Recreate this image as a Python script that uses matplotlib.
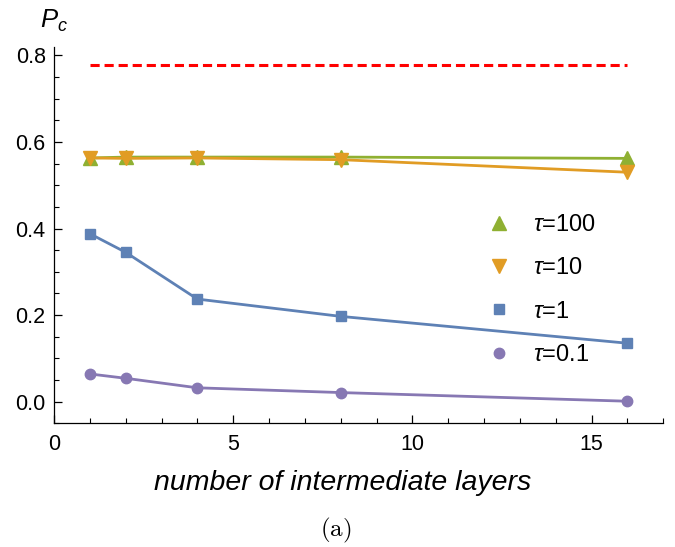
import numpy as np
import matplotlib.pyplot as plt
from matplotlib.lines import Line2D
from matplotlib.ticker import MultipleLocator

plt.rcParams['font.family'] = ['Liberation Sans', 'DejaVu Sans']
plt.rcParams['mathtext.fontset'] = 'custom'
plt.rcParams['mathtext.it'] = 'Liberation Sans:italic'
plt.rcParams['mathtext.rm'] = 'Liberation Sans'

layers = [1, 2, 4, 8, 16]
pc_tau100 = [0.563, 0.565, 0.565, 0.565, 0.562]
pc_tau10 = [0.563, 0.562, 0.563, 0.559, 0.530]
pc_tau1 = [0.388, 0.345, 0.237, 0.197, 0.135]
pc_tau01 = [0.064, 0.054, 0.032, 0.021, 0.001]
pc_bound = 0.778

green = '#8FB032'
orange = '#E19C24'
blue = '#5E81B5'
purple = '#8778B3'

fig = plt.figure(figsize=(6.75, 5.47), dpi=100)
ax = fig.add_axes([54 / 675, 1 - 423.3 / 547, (663.3 - 54) / 675, (423.3 - 46.7) / 547])

ax.plot([layers[0], layers[-1]], [pc_bound, pc_bound], color='#FF0000', lw=2.2,
        linestyle=(0, (3.0, 1.6)))
ax.plot(layers, pc_tau01, color=purple, lw=2, marker='o', ms=7.5)
ax.plot(layers, pc_tau1, color=blue, lw=2, marker='s', ms=7.5)
ax.plot(layers, pc_tau100, color=green, lw=2, marker='^', ms=9.5)
ax.plot(layers, pc_tau10, color=orange, lw=2, marker='v', ms=9.5)

ax.set_xlim(0, 17)
ax.set_ylim(-0.05, 0.82)
ax.xaxis.set_major_locator(MultipleLocator(5))
ax.xaxis.set_minor_locator(MultipleLocator(1))
ax.yaxis.set_minor_locator(MultipleLocator(0.05))
ax.set_yticks([0.0, 0.2, 0.4, 0.6, 0.8])
ax.set_yticklabels(['0.0', '0.2', '0.4', '0.6', '0.8'])
ax.tick_params(which='major', direction='in', length=6, width=0.9, labelsize=15.5)
ax.tick_params(axis='x', which='major', pad=8)
ax.tick_params(axis='y', which='major', pad=6)
ax.tick_params(which='minor', direction='in', length=3.5, width=0.8)
ax.spines['top'].set_visible(False)
ax.spines['right'].set_visible(False)
for s in ['left', 'bottom']:
    ax.spines[s].set_linewidth(0.9)

fig.text(343 / 675, 1 - 490 / 547, 'number of intermediate layers', fontsize=20.5,
         style='italic', ha='center', va='baseline')
fig.text(40 / 675, 1 - 21 / 547, r'$P_c$', fontsize=18.5, va='center', ha='left')
fig.text(336 / 675, 1 - 530 / 547, r'$\mathrm{(a)}$', fontsize=18, ha='center', va='center',
         math_fontfamily='cm')

handles = [
    Line2D([], [], color=green, marker='^', ls='none', ms=9.5),
    Line2D([], [], color=orange, marker='v', ls='none', ms=9.5),
    Line2D([], [], color=blue, marker='s', ls='none', ms=7.5),
    Line2D([], [], color=purple, marker='o', ls='none', ms=7.5),
]
labels = [r'$\tau$=100', r'$\tau$=10', r'$\tau$=1', r'$\tau$=0.1']
ax.legend(handles, labels, loc='center left', bbox_to_anchor=(0.711, 0.354), frameon=False,
          fontsize=17, handlelength=1.0, handletextpad=0.94, labelspacing=0.9,
          borderpad=0, borderaxespad=0)

fig.savefig('out.png', dpi=100)
